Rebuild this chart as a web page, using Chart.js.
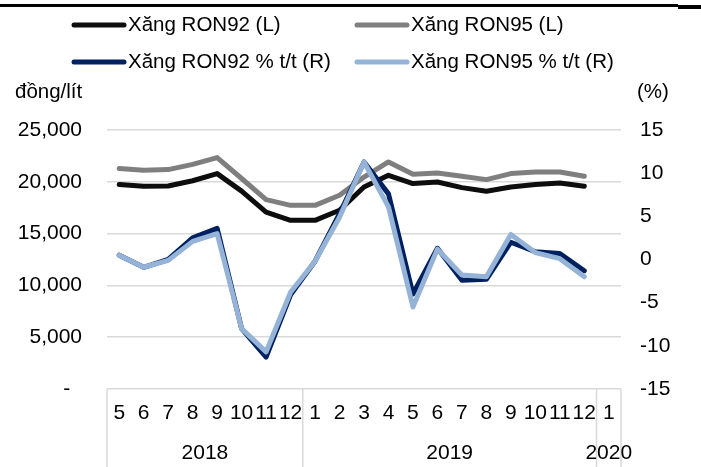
<!DOCTYPE html>
<html>
<head>
<meta charset="utf-8">
<script src="https://cdn.jsdelivr.net/npm/chart.js@4/dist/chart.umd.min.js"></script>
<style>
  html, body { margin: 0; padding: 0; background: #fff; }
  #wrap { width: 701px; height: 467px; position: relative; }
</style>
</head>
<body>
<div id="wrap"><canvas id="c" width="701" height="467"></canvas></div>
<script>
// Monthly retail petrol prices (đồng/lít) and year-on-year change (%)
const months = ['5','6','7','8','9','10','11','12','1','2','3','4','5','6','7','8','9','10','11','12','1'];
const years = [
  { label: '2018', from: 0, to: 7 },
  { label: '2019', from: 8, to: 19 },
  { label: '2020', from: 20, to: 20 }
];
const ron92 = [19750, 19570, 19600, 20100, 20790, 19100, 17080, 16280, 16280, 17250, 19500, 20630, 19830, 19980, 19440, 19080, 19500, 19730, 19880, 19570, null];
const ron95 = [21280, 21110, 21180, 21680, 22340, 20320, 18280, 17730, 17730, 18700, 20460, 21920, 20730, 20850, 20530, 20210, 20790, 20950, 20950, 20530, null];
const ron92yoy = [0.5, -0.9, 0.0, 2.5, 3.6, -8.0, -11.3, -4.1, -0.2, 5.3, 11.3, 7.6, -4.0, 1.3, -2.4, -2.3, 2.0, 0.9, 0.7, -1.3, null];
const ron95yoy = [0.5, -0.9, -0.1, 2.1, 3.0, -8.0, -10.7, -3.8, -0.2, 4.9, 11.3, 6.1, -5.5, 1.2, -1.8, -2.0, 2.9, 0.8, 0.1, -2.0, null];
const leftTicks = { min: 0, max: 25000, step: 5000 };
const rightTicks = { min: -15, max: 15, step: 5 };

const FONT = "'Liberation Sans', Arial, sans-serif";
const GRID = '#d9d9d9';

// Legend, axis units, year band and top rule
const decorations = {
  id: 'decorations',
  afterDraw(chart) {
    const ctx = chart.ctx;
    const x = chart.scales.x;
    ctx.save();

    // top rule
    ctx.fillStyle = '#000';
    ctx.fillRect(0, 4, 678, 3);
    ctx.fillRect(678, 5, 23, 4);

    // legend (2 x 2)
    const slots = [
      { ds: 0, sx: 72, tx: 128, y: 25 },
      { ds: 1, sx: 355, tx: 411, y: 25 },
      { ds: 2, sx: 72, tx: 128, y: 62 },
      { ds: 3, sx: 355, tx: 411, y: 62 }
    ];
    ctx.font = '20.5px ' + FONT;
    ctx.textBaseline = 'middle';
    ctx.textAlign = 'left';
    slots.forEach(s => {
      const d = chart.data.datasets[s.ds];
      ctx.strokeStyle = d.borderColor;
      ctx.lineWidth = 5;
      ctx.lineCap = 'round';
      ctx.beginPath();
      ctx.moveTo(s.sx + 2, s.y);
      ctx.lineTo(s.sx + 52, s.y);
      ctx.stroke();
      ctx.fillStyle = '#000';
      ctx.fillText(d.label, s.tx, s.y);
    });

    // axis units
    ctx.fillText('đồng/lít', 15, 92);
    ctx.fillText('(%)', 637, 92);

    // category bands: separators and year labels
    const half = (x.getPixelForValue(1) - x.getPixelForValue(0)) / 2;
    const top = chart.chartArea.bottom;
    const bottom = chart.height;
    ctx.strokeStyle = GRID;
    ctx.lineWidth = 1.5;
    ctx.lineCap = 'butt';
    const edges = [x.getPixelForValue(0) - half];
    years.forEach(y => edges.push(x.getPixelForValue(y.to) + half));
    edges.forEach(px => {
      ctx.beginPath();
      ctx.moveTo(px, top);
      ctx.lineTo(px, bottom);
      ctx.stroke();
    });
    ctx.font = '21px ' + FONT;
    ctx.fillStyle = '#000';
    ctx.textAlign = 'center';
    years.forEach(y => {
      const cx = (x.getPixelForValue(y.from) + x.getPixelForValue(y.to)) / 2;
      ctx.fillText(y.label, cx, 453);
    });
    ctx.restore();
  }
};

const lineStyle = {
  borderWidth: 5,
  pointRadius: 0,
  pointHoverRadius: 0,
  tension: 0,
  borderJoinStyle: 'round',
  borderCapStyle: 'round',
  fill: false,
  spanGaps: false
};

new Chart(document.getElementById('c'), {
  type: 'line',
  data: {
    labels: months,
    datasets: [
      Object.assign({ label: 'Xăng RON92 (L)', data: ron92, borderColor: '#0d0d0d', yAxisID: 'y', order: 3 }, lineStyle),
      Object.assign({ label: 'Xăng RON95 (L)', data: ron95, borderColor: '#7f7f7f', yAxisID: 'y', order: 4 }, lineStyle),
      Object.assign({ label: 'Xăng RON92 % t/t (R)', data: ron92yoy, borderColor: '#002060', yAxisID: 'y1', order: 2 }, lineStyle),
      Object.assign({ label: 'Xăng RON95 % t/t (R)', data: ron95yoy, borderColor: '#95b3d7', yAxisID: 'y1', order: 1 }, lineStyle)
    ]
  },
  options: {
    responsive: false,
    animation: false,
    devicePixelRatio: 1,
    layout: { padding: { top: 130, left: 0, right: 0, bottom: 0 } },
    plugins: { legend: { display: false }, tooltip: { enabled: false } },
    scales: {
      x: {
        type: 'category',
        offset: true,
        grid: { display: false, drawTicks: false },
        border: { display: false },
        ticks: {
          autoSkip: false, maxRotation: 0, minRotation: 0, padding: 12,
          color: '#000', font: { family: FONT, size: 21 }
        },
        afterFit(s) { s.height = 78; }
      },
      y: {
        position: 'left',
        min: leftTicks.min, max: leftTicks.max,
        grid: { color: GRID, lineWidth: 1.5, drawTicks: false },
        border: { display: false },
        ticks: {
          stepSize: leftTicks.step, padding: 25, color: '#000',
          font: { family: FONT, size: 21 },
          callback: v => v === 0 ? '-  ' : v.toLocaleString('en-US')
        },
        afterFit(s) { s.width = 107; }
      },
      y1: {
        position: 'right',
        min: rightTicks.min, max: rightTicks.max,
        grid: { display: false, drawTicks: false },
        border: { display: false },
        ticks: {
          stepSize: rightTicks.step, padding: 19, color: '#000',
          font: { family: FONT, size: 21 }
        },
        afterFit(s) { s.width = 80; }
      }
    }
  },
  plugins: [decorations]
});
</script>
</body>
</html>
